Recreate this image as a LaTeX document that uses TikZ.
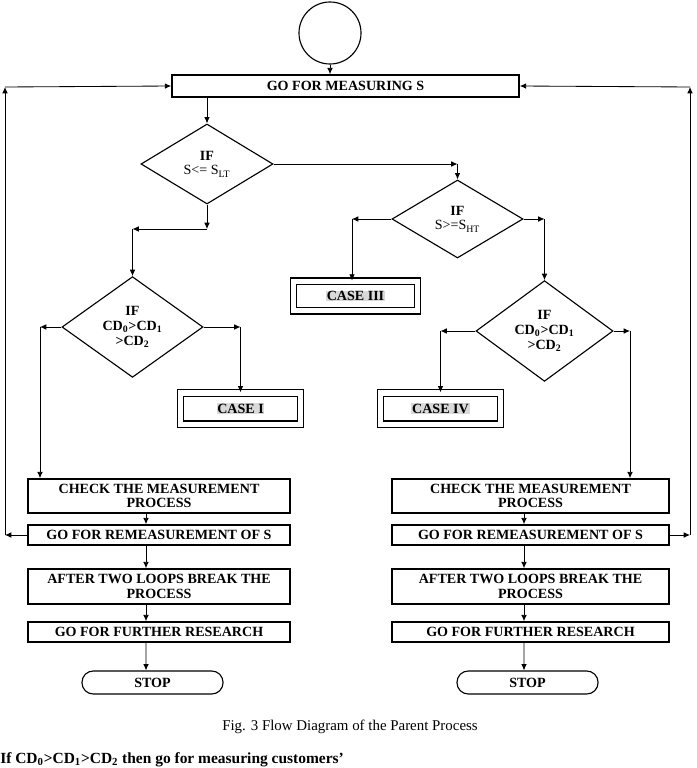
\documentclass[tikz,border=0pt]{standalone}
\usepackage{fontspec}
\setmainfont{Liberation Serif}
\usetikzlibrary{shapes.geometric,arrows.meta}

\tikzset{
  proc/.style={draw, line width=1.1pt, rectangle, align=center, inner sep=1pt,
    font=\bfseries\fontsize{10}{10.5}\selectfont},
  dec/.style={draw, thick, diamond, align=center, inner sep=0pt,
    font=\fontsize{10}{10.5}\selectfont},
  casebox/.style={draw, thick, double, double distance=0.13cm,
    font=\bfseries\fontsize{10}{12}\selectfont},
  term/.style={draw, thick, rounded corners=0.28cm,
    font=\bfseries\fontsize{10}{12}\selectfont},
  link/.style={semithick, -{Latex[length=4.5pt,width=4pt]}}
}
\newcommand{\hlcase}[1]{{\setlength{\fboxsep}{0.5pt}\colorbox{gray!30}{#1}}}

\begin{document}
\begin{tikzpicture}[x=0.025cm, y=-0.025cm]
\useasboundingbox (0,0) rectangle (696,768);
% start and first measurement
\node[draw, thick, circle, minimum size=1.55cm] (start) at (330,33) {};
\node[proc, minimum width=8.675cm, minimum height=0.55cm] (meas) at (345.5,86) {GO FOR MEASURING S};
% decisions
\node[dec, minimum width=3.3cm, minimum height=2cm] (d1) at (207,164) {{\bfseries IF}\\S<= S\textsubscript{LT}};
\node[dec, minimum width=3.275cm, minimum height=1.95cm] (d2) at (457.5,219) {{\bfseries IF}\\S>=S\textsubscript{HT}};
\node[dec, minimum width=3.525cm, minimum height=2.35cm, font=\bfseries\fontsize{10}{10.5}\selectfont] (d3) at (132.5,327) {IF\\CD\textsubscript{0}>CD\textsubscript{1}\\>CD\textsubscript{2}};
\node[dec, minimum width=3.425cm, minimum height=2.425cm, font=\bfseries\fontsize{10}{10.5}\selectfont] (d4) at (544.5,331) {IF\\CD\textsubscript{0}>CD\textsubscript{1}\\>CD\textsubscript{2}};
% cases
\node[casebox, minimum width=3.1cm, minimum height=0.74cm] (c3) at (355.5,296) {\hlcase{CASE III}};
\node[casebox, minimum width=3.0cm, minimum height=0.78cm] (c1) at (240.5,408.5) {\hlcase{CASE I}};
\node[casebox, minimum width=3.0cm, minimum height=0.78cm] (c4) at (440.5,408.5) {\hlcase{CASE IV}};
% left column
\node[proc, minimum width=6.55cm, minimum height=0.85cm] (chkL) at (159,496) {CHECK THE MEASUREMENT\\PROCESS};
\node[proc, minimum width=6.55cm, minimum height=0.5cm] (remL) at (159,535) {GO FOR REMEASUREMENT OF S};
\node[proc, minimum width=6.55cm, minimum height=0.875cm] (aftL) at (159,586.5) {AFTER TWO LOOPS BREAK THE\\PROCESS};
\node[proc, minimum width=6.55cm, minimum height=0.5cm] (furL) at (159,632) {GO FOR FURTHER RESEARCH};
\node[term, minimum width=3.525cm, minimum height=0.575cm] (stopL) at (152.5,682.5) {STOP};
% right column
\node[proc, minimum width=6.925cm, minimum height=0.85cm] (chkR) at (530.5,496) {CHECK THE MEASUREMENT\\PROCESS};
\node[proc, minimum width=6.925cm, minimum height=0.5cm] (remR) at (530.5,535) {GO FOR REMEASUREMENT OF S};
\node[proc, minimum width=6.925cm, minimum height=0.875cm] (aftR) at (530.5,586.5) {AFTER TWO LOOPS BREAK THE\\PROCESS};
\node[proc, minimum width=6.925cm, minimum height=0.5cm] (furR) at (530.5,632) {GO FOR FURTHER RESEARCH};
\node[term, minimum width=3.525cm, minimum height=0.575cm] (stopR) at (527.5,682.5) {STOP};
% texts under the chart
\node[font=\fontsize{10.6}{12}\selectfont] (cap) at (350,727) {Fig. 3 Flow Diagram of the Parent Process};
\node[anchor=base west, inner sep=0pt, font=\bfseries\fontsize{11}{13}\selectfont] (note) at (0,763.5) {If CD\textsubscript{0}>CD\textsubscript{1}>CD\textsubscript{2} then go for measuring customers’};

% corners
\coordinate (k1) at (d2.north |- d1.east);
\coordinate (k2) at (207,229);
\coordinate (k3) at (d3.north |- k2);
\coordinate (k4) at (352,219);
\coordinate (k5) at (d4.north |- d2.east);
\coordinate (k6) at (40,327);
\coordinate (k7) at (c1.north |- d3.east);
\coordinate (k8) at (c4.north |- d4.west);
\coordinate (k9) at (630,331);
\coordinate (l1) at (5,535);
\coordinate (l2) at (5,87);
\coordinate (r1) at (690,535);
\coordinate (r2) at (690,87);

% connectors
\draw[link] (start.south) -- (start.south |- meas.north);
\draw[link] (d1.north |- meas.south) -- (d1.north);
\draw[link] (d1.east) -- (k1);
\draw[link] (k1) -- (d2.north);
\draw[link] (d1.south) -- (k2);
\draw[link] (k2) -- (k3);
\draw[link] (k3) -- (d3.north);
\draw[link] (d2.west) -- (k4);
\draw[link] (k4) -- (k4 |- c3.north);
\draw[link] (d2.east) -- (k5);
\draw[link] (k5) -- (d4.north);
\draw[link] (d3.west) -- (k6);
\draw[link] (k6) -- (k6 |- chkL.north);
\draw[link] (d3.east) -- (k7);
\draw[link] (k7) -- (c1.north);
\draw[link] (d4.west) -- (k8);
\draw[link] (k8) -- (c4.north);
\draw[link] (d4.east) -- (k9);
\draw[link] (k9) -- (k9 |- chkR.north);
\foreach \a/\b in {chkL/remL, remL/aftL, aftL/furL}
  \draw[link] ([xshift=-0.325cm]\a.south) -- ([xshift=-0.325cm]\b.north);
\draw[link] ([xshift=-0.325cm]furL.south) -- ([xshift=-0.1625cm]stopL.north);
\foreach \a/\b in {chkR/remR, remR/aftR, aftR/furR}
  \draw[link] ([xshift=-0.1625cm]\a.south) -- ([xshift=-0.1625cm]\b.north);
\draw[link] ([xshift=-0.1625cm]furR.south) -- ([xshift=-0.0875cm]stopR.north);
% loops back to the measurement
\draw[link] (remL.west) -- (l1);
\draw[link] (l1) -- (l2);
\draw[link] (l2) -- (meas.west);
\draw[link] (remR.east) -- (r1);
\draw[link] (r1) -- (r2);
\draw[link] (r2) -- (meas.east);
\end{tikzpicture}
\end{document}
